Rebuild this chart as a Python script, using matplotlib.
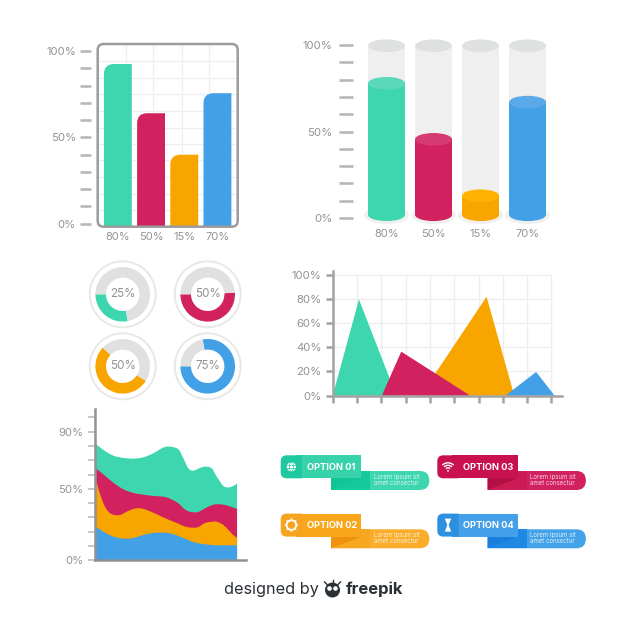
import matplotlib
matplotlib.use('Agg')
import matplotlib.pyplot as plt
from matplotlib.patches import Circle, Ellipse, FancyBboxPatch, PathPatch, Polygon, Rectangle, Arc
from matplotlib.path import Path

plt.rcParams['font.family'] = ['Inter', 'DejaVu Sans']

TEAL = '#3dd6ae'
RED = '#d2215f'
ORANGE = '#f8a500'
BLUE = '#41a0e6'
COLORS = [TEAL, RED, ORANGE, BLUE]
TEXT = '#939393'
TICK = '#b8b8b8'
GRID = '#eceef2'

# bar chart
bar_labels = ['80%', '50%', '15%', '70%']
bar_values = [92.5, 64, 40, 75.6]
bar_grid_x = [0.24, 1.07, 1.92, 2.75]
bar_grid_y = [7.8, 17.5, 27.1, 36.8, 46, 55.7, 65.4, 75, 84.7, 94.2]

# cylinders
cyl_labels = ['80%', '50%', '15%', '70%']
cyl_values = [77.9, 45.5, 12.9, 67]
cyl_tops = ['#5ad8b8', '#d63a70', '#ffb300', '#5aa9e8']

# donuts
donut_labels = ['25%', '50%', '50%', '75%']
donut_values = [28, 51, 53, 78]
donut_starts = [180, 180, 137, 180]
donut_centres = [(122.7, 294.3), (207.7, 294.3), (122.7, 366.3), (207.7, 366.3)]

# triangles
tri_x = [[0, 1.08, 2.62], [3.61, 6.33, 7.47], [2.02, 2.82, 5.66], [7.1, 8.37, 9.13]]
tri_y = [[0, 79.6, 0], [0, 81.8, 0], [0, 36.4, 0], [0, 19.6, 0]]
tri_colors = [TEAL, ORANGE, RED, BLUE]

# stacked areas
area_x = [0, 5.9, 12.9, 19.9, 27, 34, 41, 48, 52.8, 58.7, 62.2, 65.7, 69.2, 72.8,
          77.5, 82.2, 85.7, 90.4, 93.9, 97.4, 100]
area_teal = [81.8, 77.2, 73.2, 71.6, 71.1, 72, 74.8, 78.8, 79.5, 77.6, 71.3, 64.3,
             62.7, 64.1, 65.5, 64.3, 58.5, 52, 51, 52, 53.8]
area_red = [64.8, 60.1, 54.3, 49.7, 47.1, 45.9, 45, 44.5, 43.1, 39.9, 36.4, 34.3,
            33.6, 33.8, 36.4, 38.5, 39.2, 38.9, 38, 36.8, 35.9]
area_orange_x = [0, 2.3, 5.9, 9.4, 12.9, 17.6, 22.3, 27, 31.7, 36.4, 41, 48, 52.8,
                 58.7, 62.2, 65.7, 69.2, 72.8, 77.5, 82.2, 85.7, 90.4, 93.9, 97.4, 100]
area_orange = [59, 50.3, 39.9, 34, 31.9, 31.7, 34, 35.9, 36.4, 35.2, 33.3, 30.1, 28,
               25.6, 24, 23.1, 22.8, 23.3, 26.1, 27, 27, 24.7, 21.2, 17.7, 15.6]
area_blue = [24, 20, 16.6, 15.2, 15.6, 17.7, 19.1, 19.3, 18.9, 17, 15.6, 14.2, 12.8,
             11.9, 11.2, 10.7, 10.5, 10.5, 10.5, 10.5, 10.5]

# option banners
option_names = ['OPTION 01', 'OPTION 02', 'OPTION 03', 'OPTION 04']
option_text = 'Lorem ipsum sit\namet consectur'
option_pos = [(280.7, 455.3), (280.7, 513.6), (437.3, 455.3), (437.3, 513.6)]
option_cols = [
    dict(icon='#1fc8a0', top='#38d2aa', low='#14c99b', fold='#0fc596', right='#3dd6ae'),
    dict(icon='#f5a422', top='#f9a61a', low='#f6a723', fold='#ee920c', right='#f9ad2b'),
    dict(icon='#c9114f', top='#c9114f', low='#cc1a55', fold='#b40f45', right='#d2215f'),
    dict(icon='#2d8fe0', top='#44a0e8', low='#1f88e5', fold='#1a7fdc', right='#44a3e8'),
]

W = 626
fig = plt.figure(figsize=(W / 100, W / 100), dpi=100, facecolor='white')


def add_ax(left, top, right, bottom):
    ax = fig.add_axes([left / W, 1 - bottom / W, (right - left) / W, (bottom - top) / W])
    ax.patch.set_alpha(0)
    return ax


def tab(ax, x0, y0, x1, y1, r, side, color):
    # rectangle with only one side rounded
    if side == 'left':
        v = [(x1, y0), (x0 + r, y0), (x0, y0), (x0, y0 + r), (x0, y1 - r), (x0, y1),
             (x0 + r, y1), (x1, y1), (x1, y0)]
    else:
        v = [(x0, y0), (x1 - r, y0), (x1, y0), (x1, y0 + r), (x1, y1 - r), (x1, y1),
             (x1 - r, y1), (x0, y1), (x0, y0)]
    c = [Path.MOVETO, Path.LINETO, Path.CURVE3, Path.CURVE3, Path.LINETO, Path.CURVE3,
         Path.CURVE3, Path.LINETO, Path.CLOSEPOLY]
    ax.add_patch(PathPatch(Path(v, c), fc=color, ec='none'))


def smooth_area(ax, xs, ys, color):
    # bezier through the read points, closed along the x axis
    verts = [(xs[0], 0), (xs[0], ys[0])]
    codes = [Path.MOVETO, Path.LINETO]
    n = len(xs)
    for i in range(n - 1):
        a = max(i - 1, 0)
        b = min(i + 2, n - 1)
        verts.append((xs[i] + (xs[i + 1] - xs[a]) / 6, ys[i] + (ys[i + 1] - ys[a]) / 6))
        verts.append((xs[i + 1] - (xs[b] - xs[i]) / 6, ys[i + 1] - (ys[b] - ys[i]) / 6))
        verts.append((xs[i + 1], ys[i + 1]))
        codes += [Path.CURVE4] * 3
    verts += [(xs[-1], 0), (xs[0], 0)]
    codes += [Path.LINETO, Path.CLOSEPOLY]
    ax.add_patch(PathPatch(Path(verts, codes), fc=color, ec='none'))


# --- bar chart ---
ax = add_ax(97.7, 44, 237.7, 226.7)
ax.set_xlim(-0.607, 3.61)
ax.set_ylim(-1.7, 104.1)
for s in ax.spines.values():
    s.set_visible(False)
ax.spines['left'].set_position(('outward', 5))
ax.hlines(bar_grid_y, -0.607, 3.61, color=GRID, lw=0.9, zorder=1)
ax.vlines(bar_grid_x, -1.7, 104.1, color=GRID, lw=0.9, zorder=1)
bw = 0.42
rx, ry = 0.3, 5.8
for i, v in enumerate(bar_values):
    verts = [(i - bw, -1.7), (i - bw, v - ry), (i - bw, v), (i - bw + rx, v), (i + bw, v),
             (i + bw, -1.7), (i - bw, -1.7)]
    codes = [Path.MOVETO, Path.LINETO, Path.CURVE3, Path.CURVE3, Path.LINETO, Path.LINETO,
             Path.CLOSEPOLY]
    ax.add_patch(PathPatch(Path(verts, codes), fc=COLORS[i], ec='none', zorder=2))
ax.set_yticks(range(0, 101, 10))
ax.set_yticklabels(['0%', '', '', '', '', '50%', '', '', '', '', '100%'])
ax.set_xticks(range(4))
ax.set_xticklabels(bar_labels)
ax.tick_params(axis='y', length=7.7, width=1.9, color=TICK, labelcolor=TEXT, labelsize=8.2, pad=3)
ax.tick_params(axis='x', length=0, labelcolor=TEXT, labelsize=8, pad=3.5)

# --- cylinders ---
ax = add_ax(353.3, 30, 560, 226)
ax.set_xlim(-0.706, 3.69)
ax.set_ylim(-4.6, 108.7)
for s in ax.spines.values():
    s.set_visible(False)
cw = 0.787
eh = 7.3
for i, v in enumerate(cyl_values):
    ax.add_patch(Ellipse((i, 1.7), 0.957, 10.4, fc='#f0f0f0', ec='none', zorder=1))
    ax.add_patch(Rectangle((i - cw / 2, 1.9), cw, 98.1, fc='#efefef', ec='none', zorder=1))
    ax.add_patch(Ellipse((i, 99.6), cw, eh, fc='#dfe1e0', ec='none', zorder=2))
    ax.add_patch(Ellipse((i, 1.9), cw, eh, fc=COLORS[i], ec='none', zorder=3))
    ax.add_patch(Rectangle((i - cw / 2, 1.9), cw, v - 1.9, fc=COLORS[i], ec='none', zorder=3))
    ax.add_patch(Ellipse((i, v), cw, eh, fc=cyl_tops[i], ec='none', zorder=4))
ax.set_yticks(range(0, 101, 10))
ax.set_yticklabels(['0%', '', '', '', '', '50%', '', '', '', '', '100%'])
ax.set_xticks(range(4))
ax.set_xticklabels(cyl_labels)
ax.tick_params(axis='y', length=10, width=1.9, color=TICK, labelcolor=TEXT, labelsize=8.2, pad=5)
ax.tick_params(axis='x', length=0, labelcolor=TEXT, labelsize=8, pad=2.5)

# --- donuts ---
for (cx, cy), lab, val, start, col in zip(donut_centres, donut_labels, donut_values,
                                          donut_starts, COLORS):
    ax = add_ax(cx - 35, cy - 35, cx + 35, cy + 35)
    ax.pie([val, 100 - val], startangle=start, colors=[col, '#e0e0e0'], radius=27.3,
           wedgeprops=dict(width=10.6))
    ax.add_patch(Circle((0, 0), 33, fc='none', ec='#e8e8e8', lw=1.4))
    ax.set_xlim(-35, 35)
    ax.set_ylim(-35, 35)
    ax.text(0, 0, lab, ha='center', va='center', fontsize=8.4, color=TEXT)

# --- triangles ---
ax = add_ax(332.7, 271, 561.7, 395.7)
ax.set_xlim(0, 9.42)
ax.set_ylim(0, 103)
ax.spines['top'].set_visible(False)
ax.spines['right'].set_visible(False)
for side in ['left', 'bottom']:
    ax.spines[side].set_color('#a2a2a2')
    ax.spines[side].set_linewidth(1.8)
ax.hlines(range(20, 101, 20), 0, 9, color=GRID, lw=1, zorder=1)
ax.vlines(range(1, 10), 0, 100, color=GRID, lw=1, zorder=1)
for xs, ys, col in zip(tri_x, tri_y, tri_colors):
    ax.fill(xs, ys, color=col, lw=0, zorder=2)
ax.set_xticks(range(10))
ax.set_xticklabels([])
ax.set_yticks(range(0, 101, 20))
ax.set_yticklabels(['0%', '20%', '40%', '60%', '80%', '100%'])
ax.tick_params(axis='both', length=5, width=1.8, color='#a2a2a2', labelcolor=TEXT, labelsize=8.2, pad=3)

# --- stacked areas ---
ax = add_ax(95, 409.3, 246, 560.3)
ax.set_xlim(0, 106.3)
ax.set_ylim(0, 105.6)
ax.spines['top'].set_visible(False)
ax.spines['right'].set_visible(False)
for side in ['left', 'bottom']:
    ax.spines[side].set_color('#929292')
    ax.spines[side].set_linewidth(1.8)
smooth_area(ax, area_x, area_teal, TEAL)
smooth_area(ax, area_x, area_red, RED)
smooth_area(ax, area_orange_x, area_orange, ORANGE)
smooth_area(ax, area_x, area_blue, BLUE)
ax.set_xticks([])
ax.set_yticks(range(0, 101, 10))
ax.set_yticklabels(['0%', '', '', '', '', '50%', '', '', '', '90%', ''])
ax.tick_params(axis='y', length=5, width=1.1, color=TICK, labelcolor=TEXT, labelsize=8.2, pad=3.5)

# --- overlay in pixel coordinates ---
ov = fig.add_axes([0, 0, 1, 1], zorder=5)
ov.set_xlim(0, W)
ov.set_ylim(W, 0)
ov.axis('off')
ov.patch.set_alpha(0)
ov.add_patch(FancyBboxPatch((97.7, 44), 140, 182.7, boxstyle='round,pad=0,rounding_size=6',
                            fc='none', ec='#9c9c9c', lw=1.8))

for k, ((x, y), name, c) in enumerate(zip(option_pos, option_names, option_cols)):
    tab(ov, x + 50.3, y + 15.7, x + 148.6, y + 34.7, 9.5, 'right', c['right'])
    ov.add_patch(Rectangle((x + 50.3, y + 15.7), 39, 19, fc=c['low'], ec='none'))
    ov.add_patch(Polygon([(x + 50.3, y + 23), (x + 80.3, y + 23), (x + 50.3, y + 34.7)],
                         fc=c['fold'], ec='none'))
    # top strip runs under the icon part so no seam shows between them
    ov.add_patch(Rectangle((x + 15, y), 65.3, 23, fc=c['top'], ec='none'))
    tab(ov, x, y, x + 21.3, y + 23, 6, 'left', c['icon'])
    ov.text(x + 26, y + 12.2, name, color='white', fontsize=6.7, fontweight='bold',
            ha='left', va='center')
    ov.text(x + 93, y + 24.6, option_text, color='white', alpha=0.8, fontsize=4.4,
            ha='left', va='center', linespacing=1.0)
    ix, iy = x + 10.7, y + 11.5
    if k == 0:
        ov.add_patch(Circle((ix, iy), 4.6, fc='white', ec='none'))
        ov.plot([ix - 4.6, ix + 4.6], [iy - 1.6, iy - 1.6], color=c['icon'], lw=0.5)
        ov.plot([ix - 4.6, ix + 4.6], [iy + 1.6, iy + 1.6], color=c['icon'], lw=0.5)
        ov.add_patch(Ellipse((ix, iy), 4.2, 9.2, fc='none', ec=c['icon'], lw=0.5))
    elif k == 1:
        ov.add_patch(Circle((ix, iy), 4.8, fc='none', ec='white', lw=1.3))
        for dx, dy in [(0, -6), (0, 6), (-6, 0), (6, 0), (-4.2, -4.2), (4.2, -4.2), (-4.2, 4.2), (4.2, 4.2)]:
            ov.add_patch(Circle((ix + dx, iy + dy), 0.8, fc='white', ec='none'))
    elif k == 2:
        for r in [3, 5.5, 8]:
            ov.add_patch(Arc((ix, iy + 4), r * 2, r * 2, theta1=225, theta2=315, ec='white', lw=1))
        ov.add_patch(Circle((ix, iy + 4), 0.9, fc='white', ec='none'))
    else:
        ov.add_patch(Polygon([(ix - 3.2, iy - 6.5), (ix + 3.2, iy - 6.5), (ix + 0.7, iy),
                              (ix + 3.2, iy + 6.5), (ix - 3.2, iy + 6.5), (ix - 0.7, iy)],
                             fc='white', ec='none'))

# footer
ov.text(223.5, 589.5, 'designed by', fontsize=11.7, color='#2b3035', ha='left', va='center')
ov.add_patch(Circle((332.5, 590), 7.5, fc='#2b3035', ec='none'))
ov.add_patch(Circle((329.5, 588.5), 2.3, fc='white', ec='none'))
ov.add_patch(Circle((335.5, 588.5), 2.3, fc='white', ec='none'))
for dx0, dy0, dx1, dy1 in [(-8, -8, -5, -5), (8, -8, 5, -5), (0, -10, 0, -6)]:
    ov.plot([332.5 + dx0, 332.5 + dx1], [590 + dy0, 590 + dy1], color='#2b3035', lw=1)
ov.text(345.5, 589.5, 'freepik', fontsize=12, fontweight='bold', color='#2b3035', ha='left', va='center')

fig.savefig('out.png', dpi=100)
